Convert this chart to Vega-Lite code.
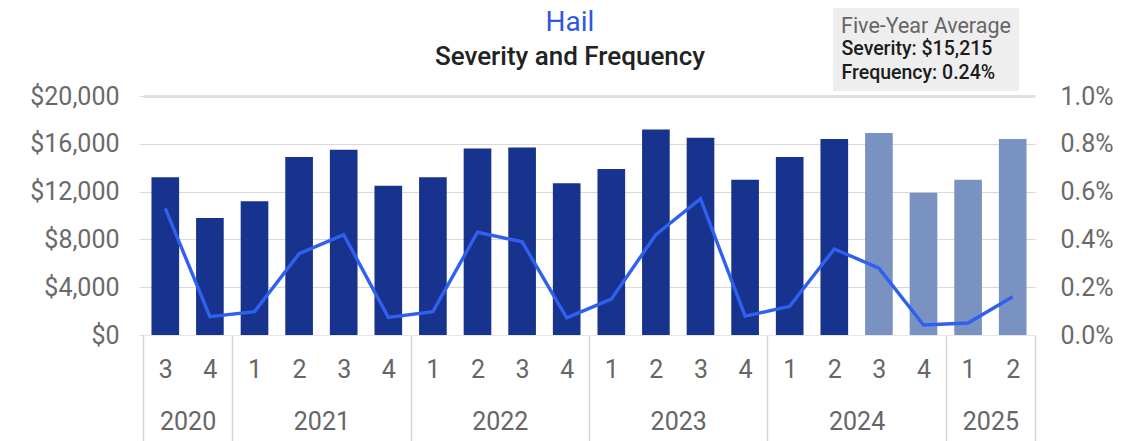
{
  "$schema": "https://vega.github.io/schema/vega-lite/v6.json",
  "autosize": {"type": "none"},
  "padding": {"left": 143, "top": 96, "right": 106, "bottom": 106},
  "width": 892,
  "height": 239,
  "background": "white",
  "config": {
    "font": "Roboto",
    "view": {"stroke": null}
  },
  "title": {
    "text": "Hail",
    "subtitle": "Severity and Frequency",
    "anchor": "middle",
    "frame": "group",
    "dx": -19,
    "dy": 62,
    "offset": 0,
    "font": "Roboto",
    "fontSize": 28,
    "fontWeight": "normal",
    "color": "#3156e0",
    "subtitleFont": "Roboto",
    "subtitleFontSize": 26,
    "subtitleFontWeight": 500,
    "subtitleColor": "#222222",
    "subtitlePadding": 7
  },
  "datasets": {
    "quarters": [
      {"period": "2020 Q3", "severity": 13200, "frequency": 0.0053, "status": "actual"},
      {"period": "2020 Q4", "severity": 9800, "frequency": 0.00077, "status": "actual"},
      {"period": "2021 Q1", "severity": 11200, "frequency": 0.00098, "status": "actual"},
      {"period": "2021 Q2", "severity": 14900, "frequency": 0.0034, "status": "actual"},
      {"period": "2021 Q3", "severity": 15500, "frequency": 0.0042, "status": "actual"},
      {"period": "2021 Q4", "severity": 12500, "frequency": 0.00074, "status": "actual"},
      {"period": "2022 Q1", "severity": 13200, "frequency": 0.00098, "status": "actual"},
      {"period": "2022 Q2", "severity": 15600, "frequency": 0.0043, "status": "actual"},
      {"period": "2022 Q3", "severity": 15700, "frequency": 0.0039, "status": "actual"},
      {"period": "2022 Q4", "severity": 12700, "frequency": 0.00072, "status": "actual"},
      {"period": "2023 Q1", "severity": 13900, "frequency": 0.0015, "status": "actual"},
      {"period": "2023 Q2", "severity": 17200, "frequency": 0.0042, "status": "actual"},
      {"period": "2023 Q3", "severity": 16500, "frequency": 0.0057, "status": "actual"},
      {"period": "2023 Q4", "severity": 13000, "frequency": 0.00079, "status": "actual"},
      {"period": "2024 Q1", "severity": 14900, "frequency": 0.0012, "status": "actual"},
      {"period": "2024 Q2", "severity": 16400, "frequency": 0.0036, "status": "actual"},
      {"period": "2024 Q3", "severity": 16900, "frequency": 0.0028, "status": "projected"},
      {"period": "2024 Q4", "severity": 11900, "frequency": 0.00042, "status": "projected"},
      {"period": "2025 Q1", "severity": 13000, "frequency": 0.0005, "status": "projected"},
      {"period": "2025 Q2", "severity": 16400, "frequency": 0.0016, "status": "projected"}
    ],
    "averages": [
      {"label": "Severity: $15,215"},
      {"label": "Frequency: 0.24%"}
    ]
  },
  "resolve": {
    "scale": {"y": "independent"},
    "axis": {"x": "independent", "y": "independent"}
  },
  "layer": [
    {
      "data": {"name": "quarters"},
      "mark": {"type": "bar"},
      "encoding": {
        "x": {
          "field": "period",
          "type": "ordinal",
          "sort": null,
          "scale": {"paddingInner": 0.38, "paddingOuter": 0.19},
          "axis": {
            "orient": "bottom",
            "title": null,
            "labelAngle": 0,
            "labelExpr": "split(datum.label, ' Q')[1]",
            "labelFont": "Roboto",
            "labelFontSize": 25,
            "labelColor": "#666666",
            "labelBaseline": "top",
            "labelPadding": -84,
            "labelOffset": 22.3,
            "tickOffset": -22.3,
            "tickSize": 106,
            "tickColor": "#d6d6d6",
            "tickWidth": 1.5,
            "tickOpacity": {"condition": {"test": "datum.value == '2020 Q3' || indexof(datum.value + '', 'Q1') >= 0", "value": 1}, "value": 0},
            "domain": true,
            "domainColor": "#e6e6e6",
            "domainWidth": 1
          }
        },
        "y": {
          "field": "severity",
          "type": "quantitative",
          "scale": {"domain": [0, 20000], "nice": false},
          "axis": {
            "orient": "left",
            "title": null,
            "values": [0, 4000, 8000, 12000, 16000, 20000],
            "format": "$,.0f",
            "labelFont": "Roboto",
            "labelFontSize": 25,
            "labelColor": "#6a6a6a",
            "labelPadding": 20,
            "tickSize": 4,
            "tickColor": "#dddddd",
            "domain": false,
            "grid": true,
            "gridColor": {"condition": {"test": "datum.value == 20000", "value": "#e0e0e0"}, "value": "#d9d9d9"},
            "gridWidth": {"condition": {"test": "datum.value == 20000", "value": 3}, "value": 1}
          }
        },
        "color": {
          "field": "status",
          "type": "nominal",
          "scale": {"domain": ["actual", "projected"], "range": ["#17338e", "#7a92c1"]},
          "legend": null
        }
      }
    },
    {
      "data": {"name": "quarters"},
      "mark": {"type": "line", "color": "#2f60f0", "strokeWidth": 3.4},
      "encoding": {
        "x": {
          "field": "period",
          "type": "ordinal",
          "sort": null,
          "axis": {
            "orient": "bottom",
            "title": null,
            "labelAngle": 0,
            "values": ["2020 Q4", "2021 Q3", "2022 Q3", "2023 Q3", "2024 Q3", "2025 Q2"],
            "labelExpr": "split(datum.label, ' ')[0]",
            "labelOffset": -44.6,
            "labelFont": "Roboto",
            "labelFontSize": 25,
            "labelColor": "#666666",
            "labelBaseline": "top",
            "labelPadding": -32,
            "tickOffset": 22.3,
            "tickSize": 106,
            "tickColor": "#d6d6d6",
            "tickWidth": 1.5,
            "tickOpacity": {"condition": {"test": "datum.value == '2025 Q2'", "value": 1}, "value": 0},
            "domain": false
          }
        },
        "y": {
          "field": "frequency",
          "type": "quantitative",
          "scale": {"domain": [0, 0.01], "nice": false},
          "axis": {
            "orient": "right",
            "title": null,
            "values": [0, 0.002, 0.004, 0.006, 0.008, 0.01],
            "format": ".1%",
            "labelFont": "Roboto",
            "labelFontSize": 25,
            "labelColor": "#6a6a6a",
            "labelPadding": 25,
            "ticks": false,
            "domain": false,
            "grid": false
          }
        }
      }
    },
    {
      "data": {"name": "averages"},
      "mark": {"type": "point", "opacity": 0},
      "encoding": {
        "shape": {
          "field": "label",
          "type": "nominal",
          "scale": {"domain": ["Severity: $15,215", "Frequency: 0.24%"]},
          "legend": {
            "title": "Five-Year Average",
            "orient": "none",
            "legendX": 690,
            "legendY": -88,
            "fillColor": "#eeeeee",
            "padding": 8,
            "titleFont": "Roboto",
            "titleFontSize": 21.5,
            "titleFontWeight": "normal",
            "titleColor": "#666666",
            "titlePadding": 2,
            "titleAnchor": "start",
            "labelFont": "Roboto",
            "labelFontSize": 19.5,
            "labelFontWeight": 500,
            "labelColor": "#1c1c1c",
            "labelAlign": "left",
            "labelOffset": -19,
            "symbolSize": 0.01,
            "symbolOpacity": 0,
            "symbolStrokeWidth": 0.01,
            "rowPadding": 3
          }
        }
      }
    }
  ]
}
